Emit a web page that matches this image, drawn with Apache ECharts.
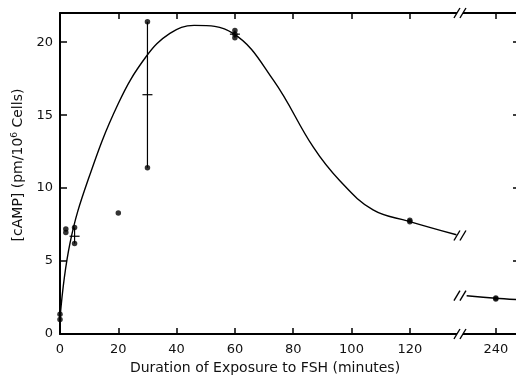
<!DOCTYPE html>
<html><head><meta charset="utf-8">
<script src="https://cdn.jsdelivr.net/npm/echarts@6/dist/echarts.min.js"></script>
<style>html,body{margin:0;padding:0;background:#fff}#c{width:516px;height:384px}</style>
</head><body><div id="c"></div>
<script>
// Tick labels (real minutes) and y ticks
const xTicks = [0, 20, 40, 60, 80, 100, 120, 240];
const yTicks = [0, 5, 10, 15, 20];
// Individual measurements [minutes, cAMP]
const points = [
  [0, 1.0], [0, 1.35], [2, 7.2], [2, 6.95], [5, 7.3], [5, 6.2], [20, 8.3],
  [30, 21.4], [30, 11.4], [60, 20.8], [60, 20.55], [60, 20.3],
  [120, 7.8], [120, 7.7], [240, 2.47], [240, 2.4]
];
// Range bars [minutes, low, high, mean]
const rangeBars = [[5, 6.2, 7.3, 6.7], [30, 11.4, 21.4, 16.4], [60, 20.3, 20.8, 20.55]];
// Fitted curve [minutes, cAMP]
const fitCurve = [
  [0, 1.1], [3.4, 6.2], [9.7, 10.6], [20, 15.8], [29.5, 19.0], [37.7, 20.6],
  [46, 21.15], [59.4, 20.6], [73.2, 17.4], [86.9, 12.8], [96, 10.5],
  [107.4, 8.5], [119.4, 7.74], [136, 6.8]
];
const lateSegment = [[230, 2.62], [240, 2.45], [248, 2.35]];

const BREAK_AT = 137.2, BREAK_SHIFT = 90.5;
function pos(m) { return m <= BREAK_AT ? m : m - BREAK_SHIFT; }
const map2 = arr => arr.map(d => [pos(d[0]), d[1]]);
const tickPos = xTicks.map(pos);
const breakMarks = [[BREAK_AT, 0, 1], [BREAK_AT, 22, 1], [BREAK_AT, 6.75, 0], [BREAK_AT, 2.63, 0]];

const FONT = 'DejaVu Sans';
const chart = echarts.init(document.getElementById('c'));
const axisCommonX = {
  type: 'value', min: 0, max: 157.8,
  axisLine: { show: true, onZero: false, lineStyle: { color: '#000', width: 2 } },
  axisTick: { show: true, inside: true, length: 6, customValues: tickPos, lineStyle: { color: '#000', width: 1.5 } },
  splitLine: { show: false }
};
const axisCommonY = {
  type: 'value', min: 0, max: 22,
  axisLine: { show: true, onZero: false, lineStyle: { color: '#000', width: 2 } },
  axisTick: { show: true, inside: true, length: 7, customValues: yTicks, lineStyle: { color: '#000', width: 1.5 } },
  splitLine: { show: false }
};
chart.setOption({
  animation: false,
  backgroundColor: '#fff',
  grid: { left: 60, right: -4, top: 13, bottom: 50, outerBoundsMode: 'none', containLabel: false },
  xAxis: [
    Object.assign({}, axisCommonX, {
      position: 'bottom',
      name: 'Duration of Exposure to FSH (minutes)', nameLocation: 'middle', nameGap: 27,
      nameTextStyle: { fontFamily: FONT, fontSize: 14, color: '#111', padding: [0, 50, 0, 0] },
      axisLabel: {
        show: true, margin: 9, customValues: tickPos, fontFamily: FONT, fontSize: 13, color: '#111',
        formatter: v => String(v > BREAK_AT - 1 ? Math.round(v + BREAK_SHIFT) : Math.round(v))
      }
    }),
    Object.assign({}, axisCommonX, { position: 'top', axisLabel: { show: false } })
  ],
  yAxis: [
    Object.assign({}, axisCommonY, {
      position: 'left',
      name: '[cAMP] (pm/10{sup|6} Cells)', nameLocation: 'middle', nameGap: 29, nameRotate: 90,
      nameTextStyle: {
        fontFamily: FONT, fontSize: 14, color: '#111', padding: [0, 0, 0, 17],
        rich: { sup: { fontFamily: FONT, fontSize: 9, color: '#111', padding: [0, 0, 8, 0] } }
      },
      axisLabel: { show: true, margin: 7, customValues: yTicks, fontFamily: FONT, fontSize: 13, color: '#111' }
    }),
    Object.assign({}, axisCommonY, { position: 'right', axisTick: Object.assign({}, axisCommonY.axisTick, { length: 7 }), axisLabel: { show: false } })
  ],
  series: [
    {
      type: 'line', data: map2(fitCurve), smooth: 0.4, showSymbol: false,
      lineStyle: { color: '#000', width: 1.4 }, z: 3
    },
    {
      type: 'line', data: map2(lateSegment), smooth: 0.3, showSymbol: false,
      lineStyle: { color: '#000', width: 1.4 }, z: 3
    },
    {
      type: 'scatter', data: map2(points), symbol: 'circle', symbolSize: 5.5,
      itemStyle: { color: '#000' }, z: 5
    },
    {
      type: 'custom', data: rangeBars.map(d => [pos(d[0]), d[1], d[2], d[3]]), z: 4,
      encode: { x: 0, y: [1, 2, 3] },
      renderItem: (params, api) => {
        const x = api.value(0);
        const lo = api.coord([x, api.value(1)]);
        const hi = api.coord([x, api.value(2)]);
        const mid = api.coord([x, api.value(3)]);
        return {
          type: 'group', children: [
            { type: 'line', shape: { x1: lo[0], y1: lo[1], x2: hi[0], y2: hi[1] }, style: { stroke: '#000', lineWidth: 1.2 } },
            { type: 'line', shape: { x1: mid[0] - 5, y1: mid[1], x2: mid[0] + 5, y2: mid[1] }, style: { stroke: '#000', lineWidth: 1.2 } }
          ]
        };
      }
    },
    {
      type: 'custom', data: breakMarks, z: 10, clip: false,
      encode: { x: 0, y: 1 },
      renderItem: (params, api) => {
        const c = api.coord([api.value(0), api.value(1)]);
        const onAxis = api.value(2) === 1;
        const kids = [];
        if (onAxis) kids.push({ type: 'rect', shape: { x: c[0] - 3, y: c[1] - 2, width: 6, height: 4 }, style: { fill: '#fff' } });
        [-3, 3].forEach(dx => kids.push({
          type: 'line',
          shape: { x1: c[0] + dx - 3, y1: c[1] + 5, x2: c[0] + dx + 3, y2: c[1] - 5 },
          style: { stroke: '#000', lineWidth: 1.4 }
        }));
        return { type: 'group', children: kids };
      }
    }
  ]
});
</script></body></html>
